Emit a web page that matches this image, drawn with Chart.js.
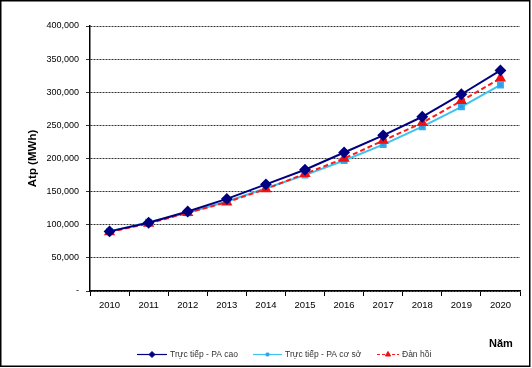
<!DOCTYPE html>
<html>
<head>
<meta charset="utf-8">
<script src="https://cdn.jsdelivr.net/npm/chart.js@4"></script>
<style>
html,body{margin:0;padding:0;background:#fff;}
#c{display:block;}
</style>
</head>
<body>
<canvas id="c" width="532" height="368"></canvas>
<script>
const years = ['2010','2011','2012','2013','2014','2015','2016','2017','2018','2019','2020'];
const trucTiepCao = [90000, 103000, 120000, 139000, 161000, 183000, 209000, 235000, 263000, 297000, 333000];
const trucTiepCoSo = [90000, 104000, 118000, 135000, 155000, 175000, 197000, 221000, 248000, 278000, 311000];
const danHoi = [89000, 102000, 118000, 134000, 154000, 177000, 200000, 227000, 254000, 287000, 321000];
const seriesNames = ['Trực tiếp - PA cao', 'Trực tiếp - PA cơ sở', 'Đàn hồi'];
const yTitle = 'Atp (MWh)';
const xTitle = 'Năm';

const FONT = "'Liberation Sans', Arial, sans-serif";

const decor = {
  id: 'decor',
  afterDraw(chart) {
    const ctx = chart.ctx;
    ctx.save();
    // outer frame
    ctx.strokeStyle = '#000';
    ctx.lineWidth = 1.5;
    ctx.strokeRect(0.75, 0.75, 529, 365.5);
    // x title
    ctx.fillStyle = '#000';
    ctx.font = 'bold 11px ' + FONT;
    ctx.textAlign = 'left';
    ctx.textBaseline = 'middle';
    ctx.fillText(xTitle, 489, 344);
    // legend
    ctx.font = '8.5px ' + FONT;
    const starts = [137, 253, 377];
    const lens = [30, 29, 22];
    chart.data.datasets.forEach((ds, i) => {
      const x0 = starts[i], y = 354.5, x1 = x0 + lens[i];
      ctx.save();
      ctx.strokeStyle = ds.borderColor;
      ctx.lineWidth = 1.2;
      ctx.setLineDash(ds.borderDash ? [3, 2] : []);
      ctx.beginPath(); ctx.moveTo(x0, y); ctx.lineTo(x1, y); ctx.stroke();
      ctx.restore();
      const mx = (x0 + x1) / 2;
      ctx.fillStyle = ds.pointBackgroundColor;
      ctx.strokeStyle = ds.pointBorderColor;
      ctx.lineWidth = 1;
      Chart.helpers.drawPoint(ctx, {pointStyle: ds.pointStyle, radius: ds.pointRadius - 1.5, borderWidth: 1, rotation: 0}, mx, y);
      ctx.fillStyle = '#333';
      ctx.textAlign = 'left';
      ctx.fillText(ds.label, x1 + 3, y + 0.5);
    });
    ctx.restore();
  }
};

new Chart(document.getElementById('c'), {
  type: 'line',
  data: {
    labels: years,
    datasets: [
      {
        label: seriesNames[0], data: trucTiepCao,
        borderColor: '#000080', backgroundColor: '#000080', borderWidth: 2,
        pointStyle: 'rectRot', pointRadius: 4.5,
        pointBackgroundColor: '#000080', pointBorderColor: '#000080',
        tension: 0, order: 1
      },
      {
        label: seriesNames[1], data: trucTiepCoSo,
        borderColor: '#3cc3f0', backgroundColor: '#3399dd', borderWidth: 2,
        pointStyle: 'rect', pointRadius: 3.5,
        pointBackgroundColor: '#3399dd', pointBorderColor: '#33aaee',
        tension: 0, order: 3
      },
      {
        label: seriesNames[2], data: danHoi,
        borderColor: '#ff1a1a', backgroundColor: '#ee1111', borderWidth: 2,
        borderDash: [5, 3],
        pointStyle: 'triangle', pointRadius: 4.5,
        pointBackgroundColor: '#ee1111', pointBorderColor: '#ee1111',
        tension: 0, order: 2
      }
    ]
  },
  options: {
    responsive: false,
    animation: false,
    devicePixelRatio: 1,
    layout: { padding: { left: 0, top: 26, right: 12, bottom: 0 } },
    plugins: {
      legend: { display: false },
      tooltip: { enabled: false }
    },
    scales: {
      x: {
        offset: true,
        grid: { display: true, drawOnChartArea: false, drawTicks: true, tickLength: 5, color: '#000', lineWidth: 1, offset: true },
        border: { display: true, color: '#000', width: 1.5 },
        ticks: { color: '#000', font: { family: FONT, size: 9.5 }, padding: 4, maxRotation: 0, autoSkip: false },
        afterFit(s) { s.height = 77; }
      },
      y: {
        min: 0, max: 400000,
        ticks: {
          stepSize: 50000, color: '#000', font: { family: FONT, size: 9 }, padding: 7,
          callback: v => v === 0 ? '-' : v.toLocaleString('en-US')
        },
        grid: { color: '#333', lineWidth: 1, tickLength: 4 },
        border: { display: true, color: '#000', width: 1.5, dash: [2, 1] },
        title: {
          display: true, text: yTitle, color: '#000',
          font: { family: FONT, size: 11.5, weight: 'bold' },
          padding: { top: 26, bottom: 0 }
        },
        afterFit(s) { s.width = 90; }
      }
    }
  },
  plugins: [decor]
});
</script>
</body>
</html>
